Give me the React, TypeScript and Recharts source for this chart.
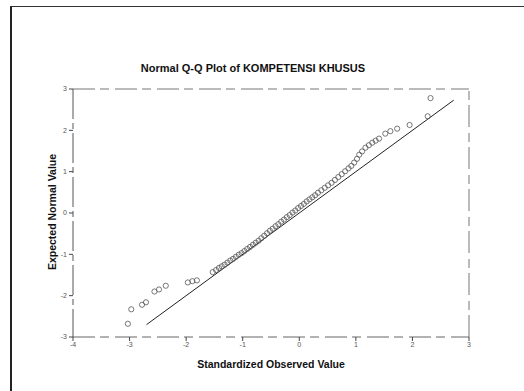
import React from 'react';
import { ScatterChart, Scatter, XAxis, YAxis, ReferenceLine } from 'recharts';

const xTicks = [-4, -3, -2, -1, 0, 1, 2, 3];
const yTicks = [-3, -2, -1, 0, 1, 2, 3];

const observed = [
  -3.03, -2.97, -2.78, -2.71, -2.56, -2.48, -2.36, -1.97, -1.89, -1.81, -1.53,
  -1.47, -1.42, -1.37, -1.32, -1.27, -1.22, -1.17, -1.12, -1.07, -1.02, -0.97,
  -0.92, -0.87, -0.82, -0.77, -0.72, -0.67, -0.62, -0.57, -0.52, -0.47, -0.42,
  -0.37, -0.32, -0.27, -0.22, -0.17, -0.12, -0.07, -0.02, 0.03, 0.08, 0.13,
  0.18, 0.23, 0.28, 0.33, 0.39, 0.45, 0.51, 0.57, 0.63, 0.69, 0.75, 0.81, 0.87,
  0.92, 0.97, 1.02, 1.06, 1.11, 1.17, 1.23, 1.29, 1.35, 1.41, 1.52, 1.61, 1.73,
  1.95, 2.27, 2.32,
];
const expected = [
  -2.68, -2.33, -2.22, -2.16, -1.9, -1.85, -1.76, -1.68, -1.65, -1.63, -1.43,
  -1.38, -1.33, -1.29, -1.25, -1.2, -1.15, -1.11, -1.06, -1.01, -0.97, -0.92,
  -0.87, -0.82, -0.77, -0.72, -0.67, -0.61, -0.55, -0.49, -0.43, -0.38, -0.32,
  -0.27, -0.21, -0.16, -0.1, -0.05, 0.01, 0.06, 0.12, 0.17, 0.22, 0.28,
  0.33, 0.38, 0.43, 0.49, 0.55, 0.61, 0.67, 0.73, 0.8, 0.87, 0.94, 1.01, 1.08,
  1.14, 1.22, 1.31, 1.41, 1.49, 1.58, 1.64, 1.7, 1.75, 1.8, 1.92, 1.98, 2.04,
  2.13, 2.34, 2.78,
];
const lineStart = -2.7;
const lineEnd = 2.73;

const points = observed.map((x, i) => ({ x, y: expected[i] }));

const font = '"Liberation Sans", Arial, sans-serif';

const Circle = (props: any) => {
  const { cx, cy } = props;
  if (cx == null || cy == null) return null;
  return <circle cx={cx} cy={cy} r={2.6} fill="none" stroke="#555" strokeWidth={0.8} />;
};

export default function App() {
  const frameDash = '22 5 9 6';
  return (
    <div style={{ position: 'absolute', left: 0, top: 0, width: 524, height: 391, background: '#fff', fontFamily: font, overflow: 'hidden' }}>
      <div style={{ position: 'absolute', left: 10, top: 6, width: 600, height: 500, borderTop: '1.5px solid #333', borderLeft: '2px solid #222' }} />
      <div style={{ position: 'absolute', left: 0, width: 506, top: 62, textAlign: 'center', fontSize: 11, fontWeight: 'bold', color: '#111' }}>
        Normal Q-Q Plot of KOMPETENSI KHUSUS
      </div>
      <div style={{ position: 'absolute', left: 271, top: 364, transform: 'translate(-50%,-50%)', fontSize: 10.5, fontWeight: 'bold', whiteSpace: 'nowrap', color: '#111' }}>
        Standardized Observed Value
      </div>
      <div style={{ position: 'absolute', left: 52, top: 212, transform: 'translate(-50%,-50%) rotate(-90deg)', fontSize: 10.5, fontWeight: 'bold', whiteSpace: 'nowrap', color: '#111' }}>
        Expected Normal Value
      </div>
      <div style={{ position: 'absolute', left: 0, top: 0 }}>
        <ScatterChart width={524} height={391} margin={{ top: 89, right: 55, bottom: 34, left: 53 }}>
          <XAxis
            type="number"
            dataKey="x"
            domain={[-4, 3]}
            ticks={xTicks}
            allowDataOverflow
            height={20}
            tickSize={4}
            tickMargin={1}
            tick={{ fontSize: 7, fill: '#555', fontFamily: font }}
            axisLine={{ stroke: '#666', strokeDasharray: frameDash }}
            tickLine={{ stroke: '#444' }}
          />
          <YAxis
            type="number"
            dataKey="y"
            domain={[-3, 3]}
            ticks={yTicks}
            allowDataOverflow
            width={20}
            tickSize={4}
            tickMargin={2}
            tick={{ fontSize: 7, fill: '#555', fontFamily: font }}
            axisLine={{ stroke: '#555', strokeDasharray: '30 4 6 4' }}
            tickLine={{ stroke: '#444' }}
          />
          <ReferenceLine y={3} stroke="#777" strokeDasharray={frameDash} ifOverflow="extendDomain" />
          <ReferenceLine x={3} stroke="#777" strokeDasharray={frameDash} ifOverflow="extendDomain" />
          <ReferenceLine
            segment={[{ x: lineStart, y: lineStart }, { x: lineEnd, y: lineEnd }]}
            stroke="#222"
            strokeWidth={1}
          />
          <Scatter data={points} shape={<Circle />} isAnimationActive={false} />
        </ScatterChart>
      </div>
    </div>
  );
}
